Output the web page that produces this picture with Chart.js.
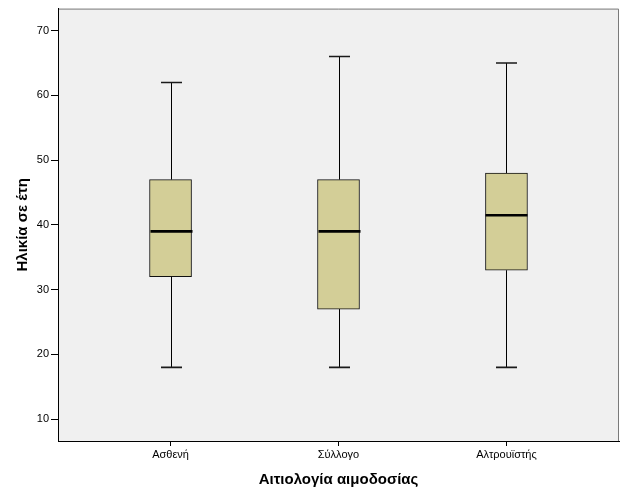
<!DOCTYPE html>
<html>
<head>
<meta charset="utf-8">
<script src="https://cdn.jsdelivr.net/npm/chart.js@4/dist/chart.umd.min.js"></script>
<style>
    html, body { margin: 0; padding: 0; background: #fff; }
    #wrap { width: 626px; height: 501px; }
</style>
</head>
<body>
<div id="wrap"><canvas id="boxChart"></canvas></div>
<script>
// box plot values
const categories = ["Ασθενή", "Σύλλογο", "Αλτρουϊστής"];
const minValues = [18, 18, 18];
const q1Values = [32, 27, 33];
const medianValues = [39, 39, 41.5];
const q3Values = [47, 47, 48];
const maxValues = [62, 66, 65];
const yTicks = [10, 20, 30, 40, 50, 60, 70];

document.addEventListener("DOMContentLoaded", () => {
    const ctx = document.getElementById("boxChart").getContext("2d");

    const plotBackground = {
        id: "plotBackground",
        beforeDraw(chart) {
            const { ctx, chartArea: a } = chart;
            ctx.save();
            ctx.fillStyle = "#f0f0f0";
            ctx.fillRect(a.left, a.top, a.right - a.left, a.bottom - a.top);
            ctx.strokeStyle = "#7a7a7a";
            ctx.lineWidth = 1;
            ctx.beginPath();
            ctx.moveTo(a.left, a.top + 0.5);
            ctx.lineTo(a.right - 0.5, a.top + 0.5);
            ctx.lineTo(a.right - 0.5, a.bottom);
            ctx.stroke();
            ctx.restore();
        }
    };

    // whiskers, caps and medians drawn with the chart's own scales
    const boxExtras = {
        id: "boxExtras",
        afterDatasetsDraw(chart) {
            const { ctx } = chart;
            const xs = chart.scales.x;
            const ys = chart.scales.y;
            ctx.save();
            categories.forEach((c, i) => {
                const x = Math.round(xs.getPixelForValue(i + 1)) + 0.5;
                const yMin = ys.getPixelForValue(minValues[i]);
                const yQ1 = ys.getPixelForValue(q1Values[i]);
                const yQ3 = ys.getPixelForValue(q3Values[i]);
                const yMax = ys.getPixelForValue(maxValues[i]);
                const yMed = ys.getPixelForValue(medianValues[i]);

                ctx.strokeStyle = "#000";
                ctx.lineWidth = 1;
                ctx.beginPath();
                ctx.moveTo(x, yMax);
                ctx.lineTo(x, yQ3);
                ctx.moveTo(x, yQ1);
                ctx.lineTo(x, yMin);
                ctx.stroke();

                ctx.lineWidth = 1.6;
                ctx.strokeStyle = "#1a1a1a";
                ctx.beginPath();
                ctx.moveTo(x - 10.5, yMax);
                ctx.lineTo(x + 10.5, yMax);
                ctx.moveTo(x - 10.5, yMin);
                ctx.lineTo(x + 10.5, yMin);
                ctx.stroke();

                ctx.lineWidth = 2.6;
                ctx.strokeStyle = "#000";
                ctx.beginPath();
                ctx.moveTo(x - 21, yMed);
                ctx.lineTo(x + 21, yMed);
                ctx.stroke();
            });
            ctx.restore();
        }
    };

    const boxData = categories.map((c, i) => ({ x: i + 1, y: [q1Values[i], q3Values[i]] }));

    new Chart(ctx, {
        type: "bar",
        data: {
            datasets: [{
                label: "Ηλικία σε έτη",
                data: boxData,
                backgroundColor: "#d3ce97",
                borderColor: "#111",
                borderWidth: 1,
                borderSkipped: false,
                barThickness: 42
            }]
        },
        plugins: [plotBackground, boxExtras],
        options: {
            responsive: true,
            maintainAspectRatio: false,
            animation: false,
            layout: { padding: { top: 5, right: 7, left: 0, bottom: 0 } },
            plugins: {
                legend: { display: false },
                tooltip: { enabled: false }
            },
            scales: {
                x: {
                    type: "linear",
                    offset: false,
                    min: 0.33,
                    max: 3.67,
                    afterBuildTicks: (scale) => {
                        scale.ticks = categories.map((c, i) => ({ value: i + 1 }));
                    },
                    afterFit: (scale) => { scale.height = 60; },
                    grid: { offset: false, drawOnChartArea: false, drawTicks: true, tickLength: 5, color: "#000" },
                    border: { color: "#000", width: 1 },
                    ticks: {
                        color: "#000",
                        padding: 2,
                        maxRotation: 0,
                        font: { family: "'Liberation Sans', Arial, sans-serif", size: 11 },
                        callback: (v) => categories[Math.round(v) - 1]
                    },
                    title: {
                        display: true,
                        text: "Αιτιολογία αιμοδοσίας",
                        color: "#000",
                        padding: { top: 0, bottom: 12 },
                        font: { family: "'Liberation Sans', Arial, sans-serif", size: 15, weight: "bold" }
                    }
                },
                y: {
                    min: 6.63,
                    max: 73.4,
                    afterBuildTicks: (scale) => {
                        scale.ticks = yTicks.map(v => ({ value: v }));
                    },
                    afterFit: (scale) => { scale.width = 58; },
                    grid: { drawOnChartArea: false, drawTicks: true, tickLength: 7, color: "#000" },
                    border: { color: "#000", width: 1 },
                    ticks: {
                        color: "#000",
                        padding: 2,
                        font: { family: "'Liberation Sans', Arial, sans-serif", size: 11 }
                    },
                    title: {
                        display: true,
                        text: "Ηλικία σε έτη",
                        color: "#000",
                        padding: { top: 14, bottom: 0 },
                        font: { family: "'Liberation Sans', Arial, sans-serif", size: 15, weight: "bold" }
                    }
                }
            }
        }
    });
});
</script>
</body>
</html>
